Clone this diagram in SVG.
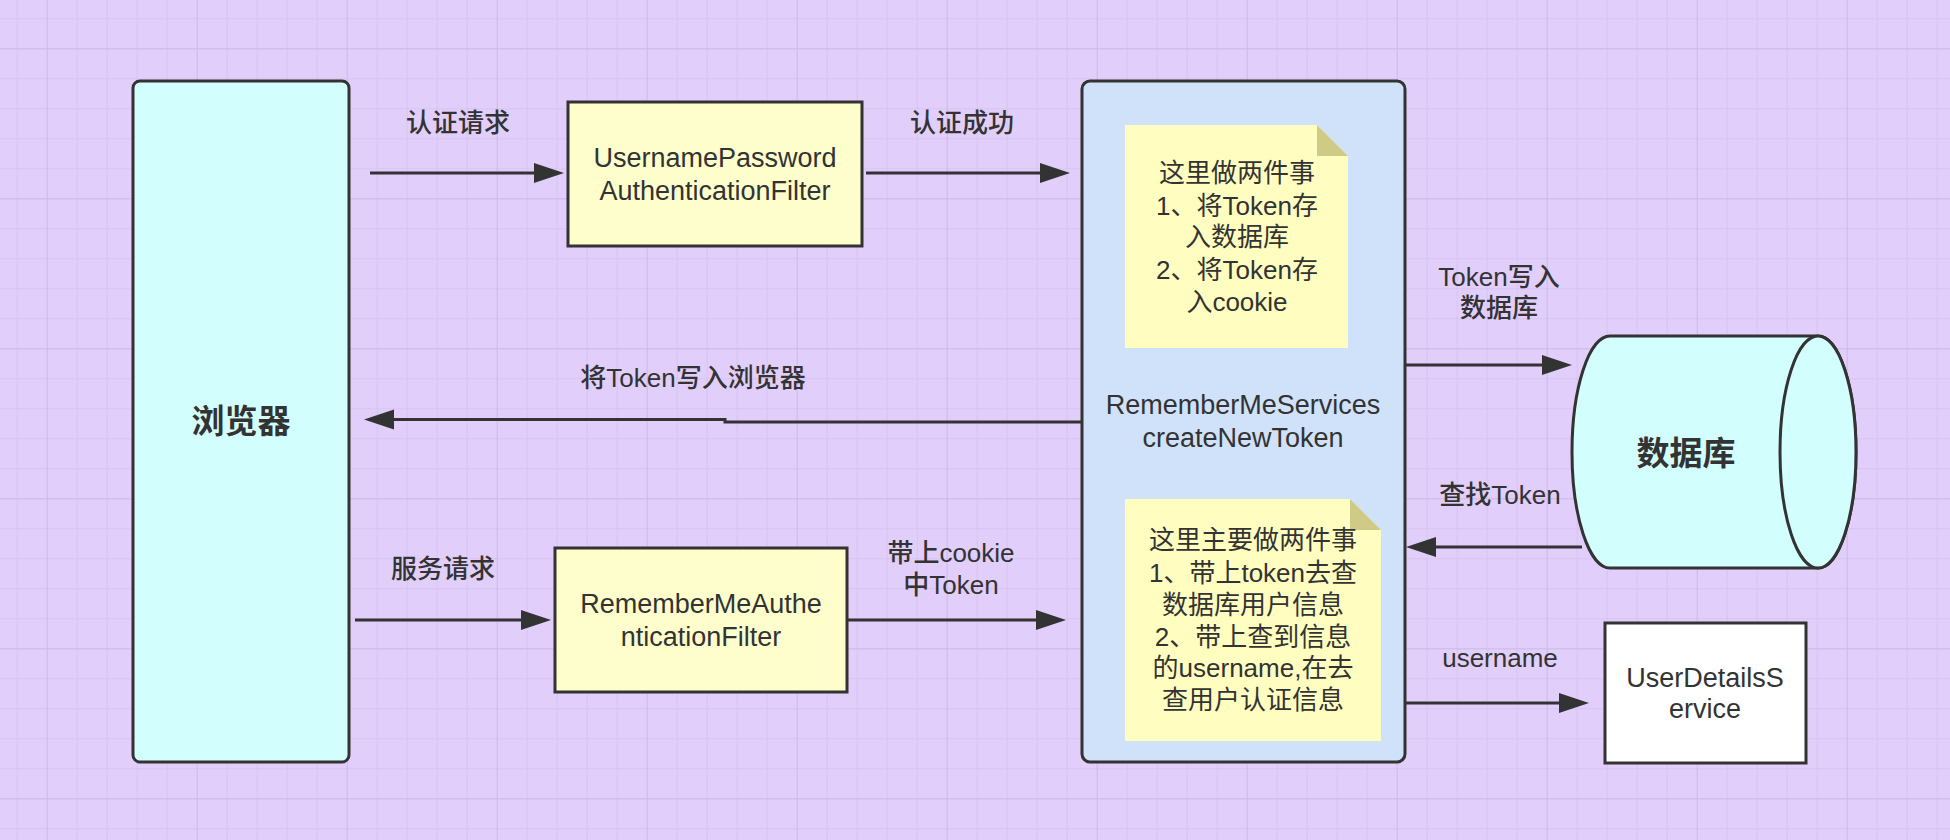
<svg xmlns="http://www.w3.org/2000/svg" width="1950" height="840" viewBox="0 0 1950 840">
<style>
text{font-family:"Liberation Sans","Noto Sans CJK SC",sans-serif;fill:#333;text-anchor:middle;dominant-baseline:central}
.lbl{font-size:26px;font-weight:500}
.nt{font-size:26px}
.nd{font-size:27px}
.big{font-size:33px;font-weight:bold}
.box{stroke:#333;stroke-width:3}
.conn{fill:none;stroke:#333;stroke-width:3}
</style>
<defs>
<pattern id="minor" width="30" height="30" patternUnits="userSpaceOnUse" x="16.7" y="18.3">
<path d="M0,0 V30 M0,0 H30" fill="none" stroke="#d4c1ef" stroke-width="1.5"/>
</pattern>
<pattern id="major" width="150" height="150" patternUnits="userSpaceOnUse" x="46.7" y="48.3">
<path d="M0,0 V150 M0,0 H150" fill="none" stroke="#cfbbea" stroke-width="1.8"/>
</pattern>
<marker id="arr" markerUnits="userSpaceOnUse" markerWidth="32" markerHeight="22" refX="0" refY="11" orient="auto" viewBox="0 0 32 22">
<path d="M0,1 L30,11 L0,21 Z" fill="#333"/>
</marker>
</defs>
<rect width="1950" height="840" fill="#e1cefa"/>
<rect width="1950" height="840" fill="url(#minor)"/>
<rect width="1950" height="840" fill="url(#major)"/>

<g id="browser">
<rect class="box" x="133" y="81" width="216" height="681" rx="7" fill="#d3fefe"/>
<text class="big" x="241" y="421">浏览器</text>
</g>

<g id="upFilter">
<rect class="box" x="568" y="102" width="294" height="144" fill="#fefecc"/>
<text class="nd" x="715" y="158">UsernamePassword</text>
<text class="nd" x="715" y="191">AuthenticationFilter</text>
</g>

<g id="rmFilter">
<rect class="box" x="555" y="548" width="292" height="144" fill="#fefecc"/>
<text class="nd" x="701" y="604">RememberMeAuthe</text>
<text class="nd" x="701" y="637">nticationFilter</text>
</g>

<g id="rmServices">
<rect class="box" x="1082" y="81" width="323" height="681" rx="8" fill="#cfe2f9"/>
<text class="nd" x="1243" y="405">RememberMeServices</text>
<text class="nd" x="1243" y="438">createNewToken</text>
</g>

<g id="note1">
<path d="M1125,125 L1317,125 L1348,156 L1348,348 L1125,348 Z" fill="#fffec0"/>
<path d="M1317,125 L1317,156 L1348,156 Z" fill="#cfcb86"/>
<text class="nt" x="1237" y="173">这里做两件事</text>
<text class="nt" x="1237" y="206">1、将Token存</text>
<text class="nt" x="1237" y="237">入数据库</text>
<text class="nt" x="1237" y="270">2、将Token存</text>
<text class="nt" x="1237" y="302">入cookie</text>
</g>

<g id="note2">
<path d="M1125,499 L1350,499 L1381,530 L1381,741 L1125,741 Z" fill="#fffec0"/>
<path d="M1350,499 L1350,530 L1381,530 Z" fill="#cfcb86"/>
<text class="nt" x="1253" y="540">这里主要做两件事</text>
<text class="nt" x="1253" y="573">1、带上token去查</text>
<text class="nt" x="1253" y="605">数据库用户信息</text>
<text class="nt" x="1253" y="637">2、带上查到信息</text>
<text class="nt" x="1253" y="668">的username,在去</text>
<text class="nt" x="1253" y="700">查用户认证信息</text>
</g>

<g id="database">
<path class="box" d="M1610,336 L1818,336 A38,116 0 0 1 1818,568 L1610,568 A38,116 0 0 1 1610,336 Z" fill="#d3fefe"/>
<ellipse class="box" cx="1818" cy="452" rx="38" ry="116" fill="#d3fefe"/>
<text class="big" x="1686" y="453">数据库</text>
</g>

<g id="userDetails">
<rect class="box" x="1605" y="623" width="201" height="140" fill="#ffffff"/>
<text class="nd" x="1705" y="678">UserDetailsS</text>
<text class="nd" x="1705" y="709">ervice</text>
</g>

<g id="connectors">
<line class="conn" x1="370" y1="173" x2="534" y2="173" marker-end="url(#arr)"/>
<line class="conn" x1="866" y1="173" x2="1040" y2="173" marker-end="url(#arr)"/>
<polyline class="conn" points="1081,422 725,422 725,419.5 394,419.5" marker-end="url(#arr)"/>
<line class="conn" x1="355" y1="620" x2="521" y2="620" marker-end="url(#arr)"/>
<line class="conn" x1="847" y1="620" x2="1036" y2="620" marker-end="url(#arr)"/>
<line class="conn" x1="1405" y1="365" x2="1542" y2="365" marker-end="url(#arr)"/>
<line class="conn" x1="1582" y1="547" x2="1436" y2="547" marker-end="url(#arr)"/>
<line class="conn" x1="1405" y1="703" x2="1559" y2="703" marker-end="url(#arr)"/>
<text class="lbl" x="458" y="123">认证请求</text>
<text class="lbl" x="962" y="123">认证成功</text>
<text class="lbl" x="693" y="378">将Token写入浏览器</text>
<text class="lbl" x="443" y="569">服务请求</text>
<text class="lbl" x="951" y="553">带上cookie</text>
<text class="lbl" x="951" y="585">中Token</text>
<text class="lbl" x="1499" y="277">Token写入</text>
<text class="lbl" x="1499" y="308">数据库</text>
<text class="lbl" x="1500" y="495">查找Token</text>
<text class="lbl" x="1500" y="658">username</text>
</g>
</svg>
